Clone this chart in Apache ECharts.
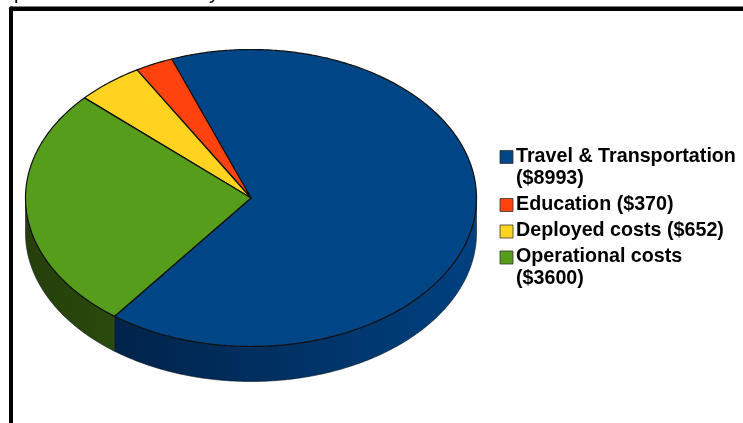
<!DOCTYPE html>
<html>
<head>
<meta charset="utf-8">
<style>html,body{margin:0;padding:0;background:#fff;overflow:hidden}#c{width:743px;height:423px}</style>
<script src="https://cdn.jsdelivr.net/npm/echarts@6/dist/echarts.min.js"></script>
</head>
<body>
<div id="c"></div>
<script>
var categories = ['Travel & Transportation', 'Education', 'Deployed costs', 'Operational costs'];
var values = [8993, 370, 652, 3600];
var legendLines = [['Travel & Transportation', '($8993)'], ['Education ($370)'], ['Deployed costs ($652)'], ['Operational costs', '($3600)']];
var legendTops = [156.5, 204.5, 231, 257];
var topColors = ['#004586', '#ff420e', '#ffd320', '#579d1c'];
var sideColors = [['#00234a', '#004180'], ['#802107', '#802107'], ['#806a10', '#806a10'], ['#253f0b', '#2a4a0c']];

var cx = 251, cy = 198, rx = 225.5, ry = 148.5, depth = 35;
var startDeg = -127.2;
var total = values.reduce(function (a, b) { return a + b; }, 0);

function pt(a, dy) {
  return [cx + rx * Math.cos(a), cy - ry * Math.sin(a) + (dy || 0)];
}
function arcPts(a0, a1, dy) {
  var out = [], n = Math.max(2, Math.ceil(Math.abs(a1 - a0) / 0.01));
  for (var i = 0; i <= n; i++) out.push(pt(a0 + (a1 - a0) * i / n, dy));
  return out;
}
function renderItem(params, api) {
  var idx = api.value(0), before = 0;
  for (var i = 0; i < idx; i++) before += values[i];
  var a0 = (startDeg + before / total * 360) * Math.PI / 180;
  var a1 = a0 + api.value(1) / total * 2 * Math.PI;
  var children = [];
  var s0 = a0, s1 = a1;
  while (s0 > 0) { s0 -= 2 * Math.PI; s1 -= 2 * Math.PI; }
  var f0 = Math.max(s0, -Math.PI), f1 = Math.min(s1, 0);
  if (f1 > f0) {
    var sidePts = arcPts(f0, f1, 0).concat(arcPts(f1, f0, depth));
    children.push({
      type: 'polygon', shape: { points: sidePts },
      style: {
        fill: new echarts.graphic.LinearGradient(0, 0, 1, 0, [
          { offset: 0, color: sideColors[idx][0] },
          { offset: 1, color: sideColors[idx][1] }
        ]),
        stroke: '#0a1420', lineWidth: 0.6
      }
    });
  }
  var topPts = [[cx, cy]].concat(arcPts(a0, a1, 0));
  children.push({
    type: 'polygon', shape: { points: topPts },
    style: { fill: topColors[idx], stroke: '#101010', lineWidth: 1.2, lineJoin: 'round' }
  });
  return { type: 'group', children: children };
}

var graphics = [
  { type: 'text', x: 14, y: -17, style: { text: 'p', font: '20px "Liberation Sans"', fill: '#000' } },
  { type: 'text', x: 209, y: -17, style: { text: 'y', font: '20px "Liberation Sans"', fill: '#000' } },
  { type: 'rect', shape: { x: 9, y: 6.5, width: 734, height: 4.5, r: [2, 0, 0, 0] }, style: { fill: '#000' } },
  { type: 'rect', shape: { x: 9, y: 6.5, width: 4, height: 417, r: [2, 0, 0, 0] }, style: { fill: '#000' } }
];
categories.forEach(function (c, i) {
  graphics.push({
    type: 'rect', shape: { x: 500, y: legendTops[i] - 6, width: 13, height: 13 },
    style: { fill: topColors[i], stroke: '#333', lineWidth: 0.8 }
  });
  legendLines[i].forEach(function (line, j) {
    graphics.push({
      type: 'text', x: 516, y: legendTops[i] + j * 22,
      style: { text: line, font: 'bold 19.7px "Liberation Sans"', fill: '#000', verticalAlign: 'middle' }
    });
  });
});

var chart = echarts.init(document.getElementById('c'), null, { renderer: 'canvas' });
chart.setOption({
  animation: false,
  backgroundColor: '#fff',
  graphic: graphics,
  xAxis: { show: false }, yAxis: { show: false },
  series: [{
    type: 'custom', coordinateSystem: 'none', renderItem: renderItem,
    data: categories.map(function (c, i) { return { name: c, value: [i, values[i]] }; })
  }]
});
</script>
</body>
</html>
